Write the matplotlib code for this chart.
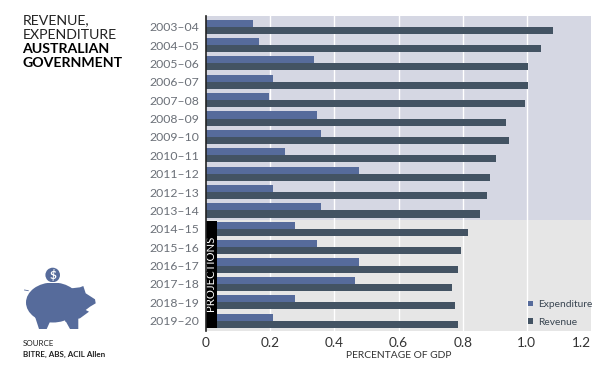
#!/usr/bin/env python
"""Revenue and expenditure, Australian Government, as percentage of GDP."""
import matplotlib
matplotlib.use('Agg')
import matplotlib.pyplot as plt
from matplotlib.patches import Circle, Ellipse, Polygon, Rectangle

years = ['2003–04', '2004–05', '2005–06', '2006–07', '2007–08', '2008–09',
         '2009–10', '2010–11', '2011–12', '2012–13', '2013–14', '2014–15',
         '2015–16', '2016–17', '2017–18', '2018–19', '2019–20']
expenditure = [0.146, 0.166, 0.336, 0.208, 0.196, 0.347, 0.358, 0.247, 0.478,
               0.208, 0.358, 0.277, 0.347, 0.478, 0.465, 0.277, 0.208]
revenue = [1.083, 1.045, 1.005, 1.005, 0.995, 0.935, 0.944, 0.905, 0.886,
           0.875, 0.855, 0.817, 0.794, 0.786, 0.766, 0.775, 0.786]
xticks = [0, 0.2, 0.4, 0.6, 0.8, 1.0, 1.2]
xticklabels = ['0', '0.2', '0.4', '0.6', '0.8', '1.0', '1.2']

BLUE = '#566b9b'
SLATE = '#435363'
W, H = 602, 367

plt.rcParams['font.family'] = ['Lato', 'DejaVu Sans']
fig = plt.figure(figsize=(W / 100, H / 100), dpi=100)

# plot area in pixels: left 206, right 591, top 16, bottom 331
ax = fig.add_axes([206 / W, 1 - 331 / H, 385 / W, 315 / H])
ax.set_xlim(0, 1.2)
ax.set_ylim(16.56, -0.58)

# historical / projected backgrounds
ax.axhspan(-0.58, 10.52, color='#d5d7e3', lw=0, zorder=0)
ax.axhspan(10.52, 16.56, color='#e6e6e6', lw=0, zorder=0)
for x in xticks[1:-1]:
    ax.axvline(x, color='white', lw=1, zorder=1)

rows = list(range(len(years)))
bar_h = 0.385
ax.barh([r - bar_h / 2 for r in rows], expenditure, height=bar_h, color=BLUE,
        label='Expenditure', zorder=2)
ax.barh([r + bar_h / 2 for r in rows], revenue, height=bar_h, color=SLATE,
        label='Revenue', zorder=2)

# projections flag
ax.add_patch(Rectangle((0, 10.6), 0.0336, 5.78, color='black', lw=0, zorder=3))
ax.text(0.0155, 13.43, 'PROJECTIONS', color='white', fontsize=8.2, rotation=90,
        ha='center', va='center', zorder=4)

for s in ['top', 'right', 'bottom']:
    ax.spines[s].set_visible(False)
ax.spines['left'].set_color('#222222')
ax.spines['left'].set_linewidth(1.2)
ax.spines['left'].set_zorder(5)

ax.set_yticks(rows)
ax.set_yticklabels(years, fontsize=8.8, color='#6b7078')
ax.set_xticks(xticks)
ax.set_xticklabels(xticklabels, fontsize=9.8, color='#333333')
ax.get_xticklabels()[-1].set_ha('right')
ax.tick_params(axis='both', length=0)
ax.tick_params(axis='y', pad=5)
ax.tick_params(axis='x', pad=4)
ax.set_xlabel('PERCENTAGE OF GDP', fontsize=7.35, color='#333333', va='center')
ax.xaxis.set_label_coords(193 / 385, -25 / 315)

ax.legend(loc='lower left', bbox_to_anchor=(322 / 385, 0.013), frameon=False,
          fontsize=7.4, handlelength=0.5, handleheight=0.5, handletextpad=0.45,
          labelspacing=0.85, labelcolor='#3a4652', borderaxespad=0, borderpad=0)

# overlay in pixel coordinates for the text block and the pig
over = fig.add_axes([0, 0, 1, 1], zorder=-1)
over.set_xlim(0, W)
over.set_ylim(H, 0)
over.axis('off')

over.text(22.5, 20.5, 'REVENUE,', fontsize=10.2, color='#222222', va='center')
over.text(22.5, 35, 'EXPENDITURE', fontsize=10.2, color='#222222', va='center')
over.text(22.5, 49, 'AUSTRALIAN', fontsize=10.2, fontweight='bold', color='black', va='center')
over.text(22.5, 63, 'GOVERNMENT', fontsize=10.2, fontweight='bold', color='black', va='center')
over.text(23, 343.5, 'SOURCE', fontsize=5.8, color='#222222', va='center')
over.text(23, 354.3, 'BITRE, ABS, ACIL Allen', fontsize=5.8, fontweight='bold', color='#222222', va='center')

# piggy bank
over.add_patch(Ellipse((53, 302.5), 54, 40, color=BLUE, lw=0))
over.add_patch(Polygon([[71.7, 288.3], [80, 287.3], [83.3, 286], [85.7, 293.3],
                        [95, 299.3], [95.7, 303.3], [90, 306.7], [85.7, 310],
                        [89, 311.7], [80, 318.3], [65, 321.7]], color=BLUE, lw=0))
over.add_patch(Polygon([[35, 316.7], [50, 321.7], [46.7, 329], [39, 329]], color=BLUE, lw=0))
over.add_patch(Polygon([[65, 320], [78.3, 316.7], [78.3, 329], [70, 329]], color=BLUE, lw=0))
over.plot([24.5, 28.3], [290, 290.7], color=BLUE, lw=0.6)
over.add_patch(Circle((52.7, 275), 7.3, color=BLUE, lw=0))
over.add_patch(Rectangle((47, 282), 13, 1.4, color='white', lw=0))
over.text(52.7, 275, '$', color='white', fontsize=8.5, fontweight='bold', ha='center', va='center')

fig.savefig('out.png', dpi=100)
